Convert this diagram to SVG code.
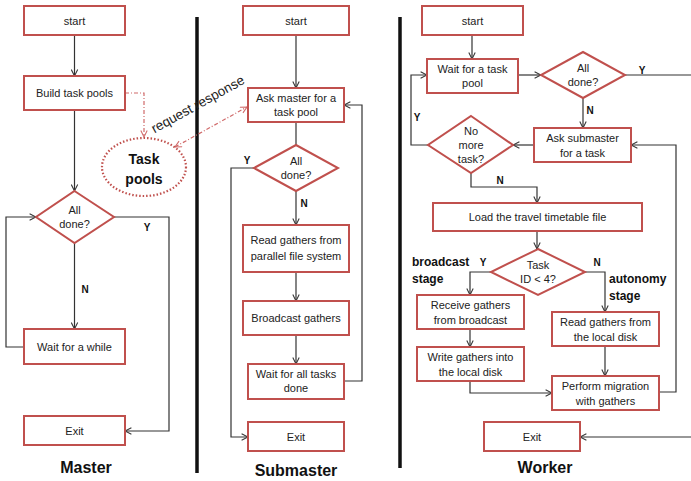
<svg xmlns="http://www.w3.org/2000/svg" width="691" height="481" viewBox="0 0 691 481">
<defs>
<style>
.box{fill:#fff;stroke:#c0504d;stroke-width:2}
.t{font-family:"Liberation Sans",Arial,sans-serif;font-size:11px;fill:#222;text-anchor:middle}
.b{font-family:"Liberation Sans",Arial,sans-serif;font-weight:bold;fill:#111}
.yn{font-size:10px;text-anchor:middle}
.c{fill:none;stroke:#333;stroke-width:1.2}
.d{fill:none;stroke:#d06a6a;stroke-width:1.2;stroke-dasharray:4 2 1 2}
.bar{stroke:#111;stroke-width:3.5}
</style>
<marker id="a" viewBox="0 0 10 10" refX="9" refY="5" markerWidth="8" markerHeight="8" orient="auto" markerUnits="userSpaceOnUse">
<path d="M1,1 L9,5 L1,9" fill="none" stroke="#333" stroke-width="1.3"/>
</marker>
<marker id="ar" viewBox="0 0 10 10" refX="9" refY="5" markerWidth="8" markerHeight="8" orient="auto-start-reverse" markerUnits="userSpaceOnUse">
<path d="M1,1 L9,5 L1,9" fill="none" stroke="#d06a6a" stroke-width="1.3"/>
</marker>
</defs>
<rect width="691" height="481" fill="#fff"/>
<line class="bar" x1="197" y1="17" x2="197" y2="473"/>
<line class="bar" x1="400" y1="17" x2="400" y2="468"/>

<g id="connectors">
<!-- Master -->
<path class="c" d="M74.5,35 V76" marker-end="url(#a)"/>
<path class="c" d="M74.5,110 V191" marker-end="url(#a)"/>
<path class="c" d="M74.5,243 V329" marker-end="url(#a)"/>
<path class="c" d="M24,347 H6 V217 H36" marker-end="url(#a)"/>
<path class="c" d="M114,217 H169 V431 H125" marker-end="url(#a)"/>
<path class="d" d="M125,93 H144 V137" marker-end="url(#ar)"/>
<path class="d" d="M175,147 L247,107" marker-start="url(#ar)" marker-end="url(#ar)"/>
<!-- Submaster -->
<path class="c" d="M296,35 V88" marker-end="url(#a)"/>
<path class="c" d="M296,122 V145"/>
<path class="c" d="M296,191 V225" marker-end="url(#a)"/>
<path class="c" d="M296,272 V301" marker-end="url(#a)"/>
<path class="c" d="M296,335 V364" marker-end="url(#a)"/>
<path class="c" d="M344,381 H362 V105 H344" marker-end="url(#a)"/>
<path class="c" d="M254,168 H231 V437 H248" marker-end="url(#a)"/>
<!-- Worker -->
<path class="c" d="M472,35 V59" marker-end="url(#a)"/>
<path class="c" d="M518,75 H541" marker-end="url(#a)"/>
<path class="c" d="M625,75 H691"/>
<path class="c" d="M583,98 V128" marker-end="url(#a)"/>
<path class="c" d="M534,145 H513" marker-end="url(#a)"/>
<path class="c" d="M428,145 H411 V75 H427" marker-end="url(#a)"/>
<path class="c" d="M471,173 V187 H537 V203" marker-end="url(#a)"/>
<path class="c" d="M537,231 V249" marker-end="url(#a)"/>
<path class="c" d="M491,272 H470 V295" marker-end="url(#a)"/>
<path class="c" d="M470,329 V347" marker-end="url(#a)"/>
<path class="c" d="M470,381 V393 H552" marker-end="url(#a)"/>
<path class="c" d="M585,272 H605 V312" marker-end="url(#a)"/>
<path class="c" d="M605,346 V376" marker-end="url(#a)"/>
<path class="c" d="M659,392 H676 V145 H631" marker-end="url(#a)"/>
<path class="c" d="M691,437 H580" marker-end="url(#a)"/>
</g>

<g id="labels">
<text x="147" y="231" class="b yn">Y</text>
<text x="85" y="293" class="b yn">N</text>
<text x="247" y="164" class="b yn">Y</text>
<text x="304" y="207" class="b yn">N</text>
<text x="642" y="74" class="b yn">Y</text>
<text x="590" y="114" class="b yn">N</text>
<text x="417" y="121" class="b yn">Y</text>
<text x="500" y="184" class="b yn">N</text>
<text x="483" y="266" class="b yn">Y</text>
<text x="597" y="266" class="b yn">N</text>
<text x="201" y="108" class="t" style="font-size:13.5px" transform="rotate(-29 201 110)">request response</text>
</g>

<!-- Master -->
<g id="m-start"><rect class="box" x="24" y="6" width="101" height="29"/><text class="t" x="74.5" y="24.5">start</text></g>
<g id="m-build"><rect class="box" x="24" y="76" width="101" height="34"/><text class="t" x="74.5" y="97">Build task pools</text></g>
<g id="m-done"><polygon class="box" points="74.5,191 114,217 74.5,243 36,217"/><text class="t" x="74.5" y="214">All</text><text class="t" x="74.5" y="228">done?</text></g>
<g id="m-wait"><rect class="box" x="24" y="329" width="101" height="35"/><text class="t" x="74.5" y="350.5">Wait for a while</text></g>
<g id="m-exit"><rect class="box" x="24" y="416" width="101" height="29"/><text class="t" x="74.5" y="434.5">Exit</text></g>
<g id="m-pools"><ellipse cx="144" cy="167" rx="42" ry="29" fill="#fff" stroke="#c0504d" stroke-width="2.2" stroke-dasharray="1.5 2"/><text class="b" x="144" y="164" font-size="14" text-anchor="middle">Task</text><text class="b" x="144" y="184" font-size="14" text-anchor="middle">pools</text></g>
<text class="b" x="86" y="473" font-size="16" text-anchor="middle">Master</text>

<!-- Submaster -->
<g id="s-start"><rect class="box" x="243" y="6" width="106" height="29"/><text class="t" x="296" y="24.5">start</text></g>
<g id="s-ask"><rect class="box" x="248" y="88" width="96" height="34"/><text class="t" x="296" y="102">Ask master for a</text><text class="t" x="296" y="116">task pool</text></g>
<g id="s-done"><polygon class="box" points="296,145 338,168 296,191 254,168"/><text class="t" x="296" y="165">All</text><text class="t" x="296" y="179">done?</text></g>
<g id="s-read"><rect class="box" x="243" y="225" width="106" height="47"/><text class="t" x="296" y="244">Read gathers from</text><text class="t" x="296" y="260">parallel file system</text></g>
<g id="s-bcast"><rect class="box" x="243" y="301" width="106" height="34"/><text class="t" x="296" y="322">Broadcast gathers</text></g>
<g id="s-wait"><rect class="box" x="248" y="364" width="96" height="35"/><text class="t" x="296" y="378">Wait for all tasks</text><text class="t" x="296" y="392">done</text></g>
<g id="s-exit"><rect class="box" x="248" y="422" width="96" height="29"/><text class="t" x="296" y="440.5">Exit</text></g>
<text class="b" x="296" y="476" font-size="16" text-anchor="middle">Submaster</text>

<!-- Worker -->
<g id="w-start"><rect class="box" x="422" y="6" width="101" height="29"/><text class="t" x="472.5" y="24.5">start</text></g>
<g id="w-wait"><rect class="box" x="427" y="59" width="91" height="34"/><text class="t" x="472.5" y="73">Wait for a task</text><text class="t" x="472.5" y="87">pool</text></g>
<g id="w-done"><polygon class="box" points="583,52 625,75 583,98 541,75"/><text class="t" x="583" y="72">All</text><text class="t" x="583" y="86">done?</text></g>
<g id="w-ask"><rect class="box" x="534" y="128" width="97" height="34"/><text class="t" x="582.5" y="142">Ask submaster</text><text class="t" x="582.5" y="157">for a task</text></g>
<g id="w-nomore"><polygon class="box" points="471,116 513,145 471,173 428,145"/><text class="t" x="471" y="135">No</text><text class="t" x="471" y="149">more</text><text class="t" x="471" y="163">task?</text></g>
<g id="w-load"><rect class="box" x="433" y="203" width="209" height="28"/><text class="t" x="537.5" y="221">Load the travel timetable file</text></g>
<g id="w-taskid"><polygon class="box" points="538,249 585,272 538,295 491,272"/><text class="t" x="538" y="269">Task</text><text class="t" x="538" y="283">ID &lt; 4?</text></g>
<g id="w-recv"><rect class="box" x="417" y="295" width="107" height="34"/><text class="t" x="470.5" y="309">Receive gathers</text><text class="t" x="470.5" y="324">from broadcast</text></g>
<g id="w-write"><rect class="box" x="417" y="347" width="107" height="34"/><text class="t" x="470.5" y="361">Write gathers into</text><text class="t" x="470.5" y="376">the local disk</text></g>
<g id="w-readlocal"><rect class="box" x="552" y="312" width="107" height="34"/><text class="t" x="605.5" y="326">Read gathers from</text><text class="t" x="605.5" y="341">the local disk</text></g>
<g id="w-perform"><rect class="box" x="552" y="376" width="107" height="34"/><text class="t" x="605.5" y="390">Perform migration</text><text class="t" x="605.5" y="405">with gathers</text></g>
<g id="w-exit"><rect class="box" x="484" y="422" width="96" height="29"/><text class="t" x="532" y="440.5">Exit</text></g>
<text class="b" x="412" y="266" font-size="12">broadcast</text>
<text class="b" x="412" y="283" font-size="12">stage</text>
<text class="b" x="609" y="283" font-size="12">autonomy</text>
<text class="b" x="609" y="300" font-size="12">stage</text>
<text class="b" x="545" y="473" font-size="16" text-anchor="middle">Worker</text>
</svg>
